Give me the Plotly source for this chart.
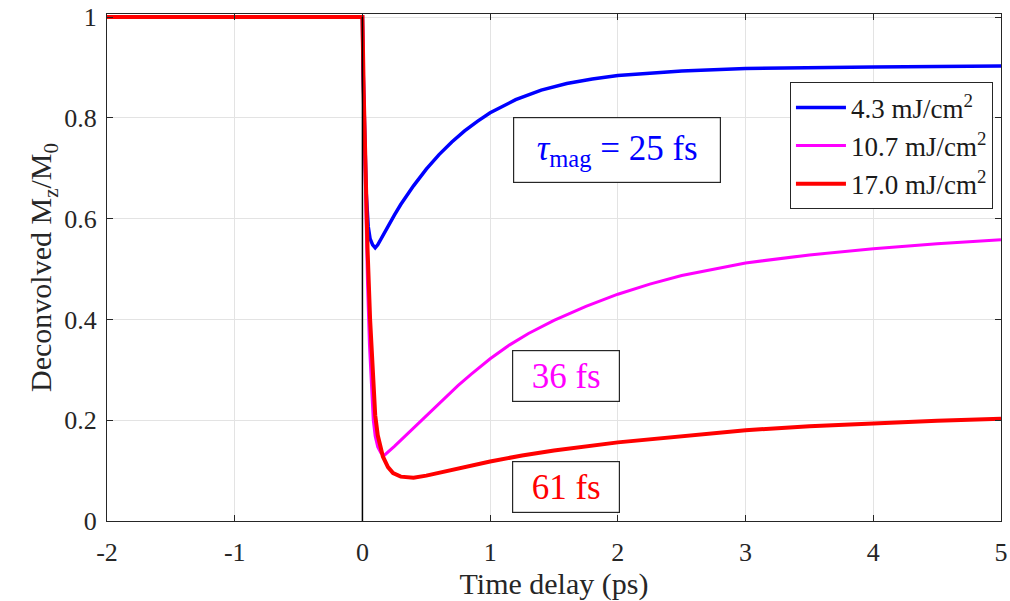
import plotly.graph_objects as go

# ---- data ----
t_43 = [-2, 0, 0.005, 0.015, 0.03, 0.045, 0.06, 0.08, 0.1, 0.12, 0.15, 0.2, 0.25, 0.3, 0.4,
        0.5, 0.6, 0.7, 0.8, 0.9, 1.0, 1.2, 1.4, 1.6, 1.8, 2.0, 2.5, 3.0, 3.5, 4.0, 4.5, 5.0]
m_43 = [1, 1, 0.9, 0.78, 0.65, 0.585, 0.56, 0.548, 0.542, 0.548, 0.562, 0.585, 0.607, 0.628, 0.665,
        0.698, 0.727, 0.752, 0.774, 0.793, 0.81, 0.836, 0.855, 0.868, 0.877, 0.884, 0.893, 0.898,
        0.9, 0.901, 0.902, 0.903]

t_107 = [-2, 0, 0.01, 0.025, 0.04, 0.055, 0.07, 0.085, 0.1, 0.12, 0.145, 0.17, 0.25, 0.35,
         0.45, 0.55, 0.65, 0.75, 0.85, 1.0, 1.15, 1.3, 1.5, 1.75, 2.0, 2.25, 2.5, 2.75, 3.0,
         3.5, 4.0, 4.5, 5.0]
m_107 = [1, 1, 0.82, 0.63, 0.47, 0.35, 0.26, 0.2, 0.168, 0.147, 0.135, 0.13, 0.148, 0.172,
         0.197, 0.222, 0.246, 0.269, 0.291, 0.322, 0.349, 0.372, 0.398, 0.426, 0.45, 0.47, 0.487,
         0.5, 0.512, 0.528, 0.54, 0.55, 0.558]

t_170 = [-2, 0, 0.01, 0.025, 0.04, 0.06, 0.08, 0.1, 0.12, 0.14, 0.16, 0.2, 0.24, 0.3, 0.35,
         0.4, 0.5, 0.6, 0.8, 1.0, 1.25, 1.5, 2.0, 2.5, 3.0, 3.5, 4.0, 4.5, 5.0]
m_170 = [1, 1, 0.85, 0.68, 0.54, 0.4, 0.29, 0.21, 0.17, 0.145, 0.128, 0.107, 0.095, 0.088, 0.086,
         0.086, 0.09, 0.096, 0.107, 0.118, 0.13, 0.14, 0.156, 0.169, 0.18, 0.188, 0.194, 0.199,
         0.203]

series_names = ["4.3 mJ/cm<sup>2</sup>", "10.7 mJ/cm<sup>2</sup>", "17.0 mJ/cm<sup>2</sup>"]
series_colors = ["#0000ff", "#ff00ff", "#ff0000"]

x_ticks = [-2, -1, 0, 1, 2, 3, 4, 5]
x_tick_text = ["-2", "-1", "0", "1", "2", "3", "4", "5"]
y_ticks = [0, 0.2, 0.4, 0.6, 0.8, 1]
y_tick_text = ["0", "0.2", "0.4", "0.6", "0.8", "1"]

# annotation labels: (text, x, y, color, box width)
labels = [
    ("<i>τ</i><sub>mag</sub> = 25 fs", 1.99, 0.736, "#0000ff", 206),
    ("36 fs", 1.596, 0.288, "#ff00ff", 106),
    ("61 fs", 1.596, 0.068, "#ff0000", 106),
]

FONT = "Liberation Serif"
AX = "#262626"

fig = go.Figure()
for tx, ty, name, col, w in zip([t_43, t_107, t_170], [m_43, m_107, m_170],
                                series_names, series_colors, [3.5, 3, 4]):
    fig.add_trace(go.Scatter(x=tx, y=ty, mode="lines", name=name,
                             line=dict(color=col, width=w)))

fig.add_shape(type="line", x0=0, x1=0, y0=0, y1=1, xref="x", yref="y",
              line=dict(color="black", width=1.5), layer="above")

for text, x, y, col, w in labels:
    fig.add_annotation(x=x, y=y, xref="x", yref="y", text=text, showarrow=False,
                       font=dict(family=FONT, size=35, color=col),
                       bordercolor=AX, borderwidth=1.2, borderpad=0,
                       bgcolor="white", width=w, height=50 if w < 150 else 64,
                       align="center", valign="middle")

fig.update_layout(
    width=1010, height=601,
    margin=dict(l=107, r=9, t=14, b=80),
    paper_bgcolor="white", plot_bgcolor="white",
    font=dict(family=FONT, color=AX, size=26),
    showlegend=True,
    legend=dict(x=0.991, xanchor="right", y=0.865, yanchor="top",
                bgcolor="white", bordercolor=AX, borderwidth=1,
                font=dict(family=FONT, size=27, color="#1a1a1a"),
                itemwidth=50, tracegroupgap=0),
)

fig.update_xaxes(range=[-2, 5], tickvals=x_ticks, ticktext=x_tick_text,
                 showgrid=True, gridcolor="#e3e3e3", gridwidth=1,
                 showline=True, linecolor=AX, linewidth=1, mirror="ticks",
                 ticks="inside", ticklen=6, tickcolor=AX,
                 zeroline=False, ticklabelstandoff=8,
                 title=dict(text="Time delay (ps)", font=dict(family=FONT, size=30, color=AX), standoff=2),
                 automargin=False)
fig.update_yaxes(range=[0, 1.006], tickvals=y_ticks, ticktext=y_tick_text,
                 showgrid=True, gridcolor="#e3e3e3", gridwidth=1,
                 showline=True, linecolor=AX, linewidth=1, mirror="ticks",
                 ticks="inside", ticklen=6, tickcolor=AX,
                 zeroline=False, ticklabelstandoff=4,
                 title=dict(text="Deconvolved M<sub>z</sub>/M<sub>0</sub>",
                            font=dict(family=FONT, size=30, color=AX), standoff=3),
                 automargin=False)

fig.write_html("out.html")
